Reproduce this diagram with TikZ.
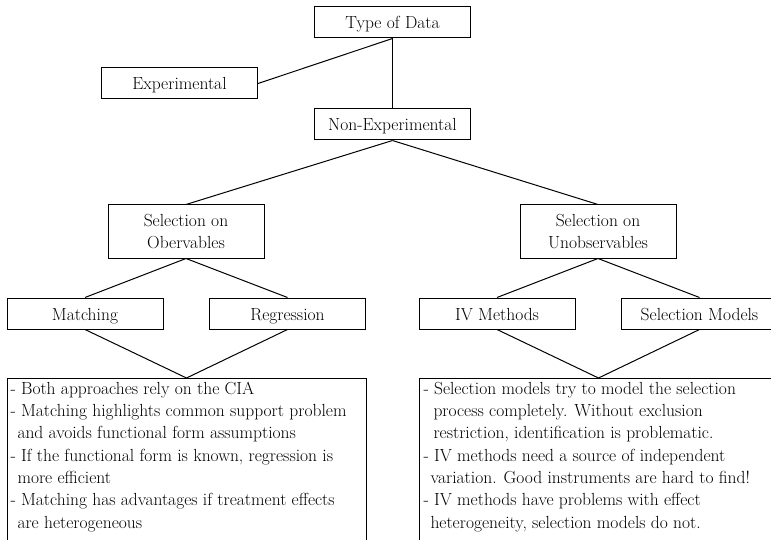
\documentclass[tikz,border=0pt]{standalone}
\usepackage{fontspec}
\newcommand\diagfs{\fontsize{17.5}{22.3}\selectfont}
\begin{document}
\begin{tikzpicture}[x=1pt,y=-1pt,line width=1pt,
  boxbase/.style={draw,rectangle,inner sep=0pt,minimum width=156pt,align=center,font=\diagfs},
  box/.style={boxbase,minimum height=31pt,text height=13pt,text depth=0pt},
  tallbox/.style={boxbase,minimum height=53pt},
  notebox/.style={draw,rectangle,inner sep=0pt,minimum width=359pt,minimum height=170pt,anchor=north},
  notetext/.style={anchor=north west,inner sep=0pt,align=left,font=\diagfs},
  link/.style={line width=1pt}]
\useasboundingbox (0,0) rectangle (771,540);
\clip (0,0) rectangle (771,540);
\node[box] (typ) at (392.5,22.5) {Type of Data};
\node[box] (exp) at (179.5,83.5) {Experimental};
\node[box] (nonexp) at (392.5,124.5) {Non-Experimental};
\node[tallbox] (selobs) at (186,231.5) {Selection on\\Obervables};
\node[tallbox] (selun) at (598,231.5) {Selection on\\Unobservables};
\node[box] (match) at (85,313.5) {Matching};
\node[box] (regr) at (287.5,313.5) {Regression};
\node[box] (iv) at (497,313.5) {IV Methods};
\node[box] (selmod) at (699.5,313.5) {Selection Models};
\node[notebox] (lbox) at (186.5,378) {};
\node[notebox] (rbox) at (598.5,378) {};
\node[notetext] (ltext) at (10,381.5) {- Both approaches rely on the CIA\\
- Matching highlights common support problem\\
\hspace*{7pt}and avoids functional form assumptions\\
- If the functional form is known, regression is\\
\hspace*{7pt}more efficient\\
- Matching has advantages if treatment effects\\
\hspace*{7pt}are heterogeneous};
\node[notetext] (rtext) at (423,381.5) {- Selection models try to model the selection\\
\hspace*{10pt}process completely. Without exclusion\\
\hspace*{10pt}restriction, identification is problematic.\\
- IV methods need a source of independent\\
\hspace*{7pt}variation. Good instruments are hard to find!\\
- IV methods have problems with effect\\
\hspace*{7pt}heterogeneity, selection models do not.};
\draw[link] (typ.south) -- (exp.east);
\draw[link] (typ.south) -- (nonexp.north);
\draw[link] (nonexp.south) -- (selobs.north);
\draw[link] (nonexp.south) -- (selun.north);
\draw[link] (selobs.south) -- (match.north);
\draw[link] (selobs.south) -- (regr.north);
\draw[link] (selun.south) -- (iv.north);
\draw[link] (selun.south) -- (selmod.north);
\draw[link] (match.south) -- (lbox.north);
\draw[link] (regr.south) -- (lbox.north);
\draw[link] (iv.south) -- (rbox.north);
\draw[link] (selmod.south) -- (rbox.north);
\end{tikzpicture}
\end{document}
